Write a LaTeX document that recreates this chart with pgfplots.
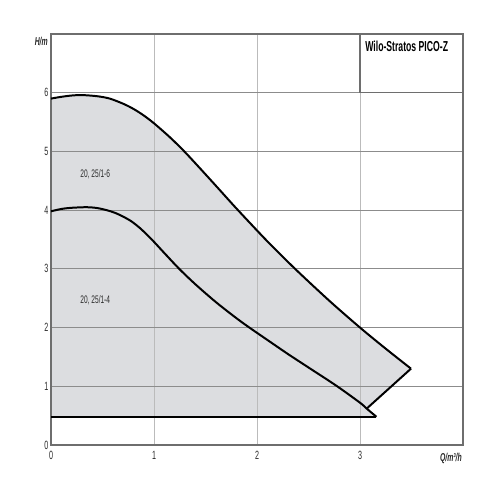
\documentclass[border=0pt]{standalone}
\usepackage{fontspec}
\setmainfont[FakeStretch=0.6]{Liberation Sans}
\usepackage{pgfplots}
\pgfplotsset{compat=1.18}
\definecolor{areafill}{HTML}{DCDDE0}
\definecolor{hgrid}{HTML}{8C8C8C}
\definecolor{vgrid}{HTML}{BBBBBB}
\definecolor{frame}{HTML}{6E6E6E}
\definecolor{txt}{HTML}{2A2A2A}

\begin{document}
\begin{tikzpicture}
\begin{axis}[
  set layers,
  scale only axis,
  width=412bp, height=411bp,
  xmin=0, xmax=4, ymin=0, ymax=7,
  xtick={0,1,2,3}, ytick={0,1,...,6},
  major tick length=0pt,
  xmajorgrids, ymajorgrids,
  x grid style={vgrid, line width=0.9pt},
  y grid style={hgrid, line width=0.9pt},
  axis line style={frame, line width=1.5pt},
  tick label style={font=\fontsize{12}{13}\selectfont, text=txt},
  /pgf/number format/assume math mode=true,
  xticklabel style={yshift=-3bp},
  yticklabel style={xshift=1bp},
  clip=false,
]
% shaded operating field
\addplot[fill=areafill, draw=none, on layer=axis background] coordinates {
  (0,0.48) (0,5.90) (0.1,5.93) (0.2,5.952) (0.3,5.96) (0.45,5.94) (0.57,5.90)
  (0.7,5.813) (0.8,5.725) (0.9,5.613) (1.0,5.479) (1.155,5.24) (1.3,4.99)
  (1.5,4.61) (1.65,4.32) (1.81,4.01) (2.1,3.47) (2.37,3.0) (2.7,2.46)
  (3.0,2.0) (3.25,1.64) (3.495,1.30)
  (3.065,0.62) (3.16,0.48) (0,0.48)
} \closedcycle;
% 1-6 curve
\addplot[black, line width=2pt, smooth] coordinates {
  (0,5.90) (0.1,5.93) (0.2,5.952) (0.3,5.96) (0.45,5.94) (0.57,5.90)
  (0.7,5.813) (0.8,5.725) (0.9,5.613) (1.0,5.479) (1.155,5.24) (1.3,4.99)
  (1.5,4.61) (1.65,4.32) (1.81,4.01) (2.1,3.47) (2.37,3.0) (2.7,2.46)
  (3.0,2.0) (3.25,1.64) (3.495,1.30)
};
% max flow line
\addplot[black, line width=2pt] coordinates {(3.495,1.30) (3.065,0.62)};
% 1-4 curve
\addplot[black, line width=2pt, smooth] coordinates {
  (0,3.98) (0.1,4.02) (0.2,4.04) (0.35,4.05) (0.45,4.035) (0.54,4.0)
  (0.62,3.955) (0.7,3.89) (0.78,3.81) (0.86,3.70) (0.93,3.585) (1.0,3.46)
  (1.1,3.27) (1.245,3.0) (1.4,2.74) (1.6,2.435) (1.8,2.16) (1.93,1.995)
  (2.1,1.79) (2.3,1.55) (2.5,1.32) (2.77,1.01) (3.0,0.72) (3.065,0.62)
  (3.16,0.48)
};
% minimum line
\addplot[black, line width=2pt] coordinates {(0,0.48) (3.16,0.48)};

\node[font=\fontsize{11}{12}\selectfont, text=txt] at (axis cs:0.43,4.62) {20, 25/1-6};
\node[font=\fontsize{11}{12}\selectfont, text=txt] at (axis cs:0.43,2.46) {20, 25/1-4};

\draw[frame, line width=1.2pt, fill=white] (axis cs:3,6) rectangle (axis cs:4,7);
\node[anchor=north west, font=\bfseries\fontsize{14.5}{15}\selectfont, inner sep=1pt]
  at (axis cs:3.04,6.9) {Wilo-Stratos PICO-Z};

\node[anchor=east, font=\bfseries\itshape\fontsize{11.5}{12}\selectfont, text=txt, inner sep=1pt]
  at (axis cs:-0.02,6.88) {H/m};
\node[anchor=north east, font=\bfseries\itshape\fontsize{11.5}{12}\selectfont, text=txt, inner sep=1pt]
  at (axis cs:4,-0.12) {Q/m³/h};
\end{axis}
\path[use as bounding box] (-51bp,-55bp) rectangle (449bp,445bp);
\end{tikzpicture}
\end{document}
